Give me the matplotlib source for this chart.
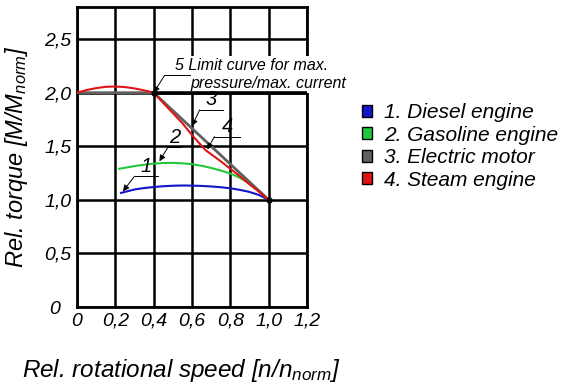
import matplotlib
matplotlib.use('Agg')
import matplotlib.pyplot as plt
from matplotlib.patches import Patch

plt.rcParams['font.family'] = ['Liberation Sans', 'DejaVu Sans']
plt.rcParams['font.style'] = 'italic'
plt.rcParams['mathtext.fontset'] = 'custom'
plt.rcParams['mathtext.rm'] = 'Liberation Sans:italic'
plt.rcParams['mathtext.it'] = 'Liberation Sans:italic'

# curves
diesel_x = [0.23, 0.30, 0.35, 0.40, 0.45, 0.50, 0.55, 0.60, 0.65, 0.70, 0.75, 0.80, 0.85, 0.90, 0.95, 1.00]
diesel_y = [1.065, 1.097, 1.110, 1.120, 1.127, 1.132, 1.134, 1.133, 1.130, 1.125, 1.118, 1.108, 1.093, 1.074, 1.045, 1.000]

gasoline_x = [0.22, 0.30, 0.35, 0.40, 0.45, 0.50, 0.55, 0.60, 0.65, 0.70, 0.75, 0.80, 0.85, 0.90, 0.95, 1.00]
gasoline_y = [1.290, 1.315, 1.328, 1.338, 1.344, 1.345, 1.341, 1.333, 1.318, 1.298, 1.274, 1.246, 1.205, 1.153, 1.085, 1.000]

electric_x = [0.0, 0.4, 1.0]
electric_y = [2.0, 2.0, 1.0]

steam_x = [0.00, 0.05, 0.10, 0.15, 0.20, 0.25, 0.30, 0.35, 0.40, 0.45, 0.50, 0.55, 0.60, 0.67, 0.75, 0.80, 0.85, 0.90, 0.95, 1.00]
steam_y = [2.000, 2.025, 2.043, 2.055, 2.058, 2.053, 2.040, 2.022, 2.000, 1.905, 1.810, 1.715, 1.605, 1.465, 1.360, 1.290, 1.220, 1.145, 1.075, 1.000]

limit_x = [0.4, 1.2]
limit_y = [2.0, 2.0]

node_x = [0.4, 1.0]
node_y = [2.0, 1.0]

x_ticks = [0, 0.2, 0.4, 0.6, 0.8, 1.0, 1.2]
x_labels = ['0', '0,2', '0,4', '0,6', '0,8', '1,0', '1,2']
y_ticks = [0, 0.5, 1.0, 1.5, 2.0, 2.5]
y_labels = ['0  ', '0,5', '1,0', '1,5', '2,0', '2,5']

legend_labels = ['1. Diesel engine', '2. Gasoline engine', '3. Electric motor', '4. Steam engine']
legend_colors = ['#1414c8', '#22c83c', '#606060', '#e01414']

# curve number labels: text, tip on curve, underline start, underline end
marks = [
    ('1', (0.24, 1.08), (0.30, 1.22), (0.42, 1.22)),
    ('2', (0.43, 1.36), (0.474, 1.49), (0.545, 1.49)),
    ('3', (0.60, 1.69), (0.64, 1.84), (0.76, 1.84)),
    ('4', (0.68, 1.47), (0.717, 1.59), (0.85, 1.59)),
]

fig = plt.figure(figsize=(5.68, 3.87), dpi=100)
ax = fig.add_axes([77/568, 80/387, 230/568, 300/387])
ax.set_xlim(0, 1.2)
ax.set_ylim(0, 2.8)
ax.set_xticks(x_ticks)
ax.set_xticklabels(x_labels, fontsize=14)
ax.set_yticks(y_ticks)
ax.set_yticklabels(y_labels, fontsize=14)
ax.tick_params(length=0, pad=4)
ax.grid(True, color='black', lw=1.8, zorder=1)
ax.set_axisbelow(True)
for s in ax.spines.values():
    s.set_linewidth(2.0)

ax.plot(limit_x, limit_y, color='black', lw=2.6, zorder=4)
ax.plot(diesel_x, diesel_y, color=legend_colors[0], lw=1.5, zorder=5)
ax.plot(gasoline_x, gasoline_y, color=legend_colors[1], lw=1.5, zorder=5)
ax.plot(electric_x, electric_y, color=legend_colors[2], lw=2.0, zorder=5)
ax.plot(steam_x, steam_y, color=legend_colors[3], lw=1.5, zorder=6)
ax.plot(node_x, node_y, 'o', color='black', ms=3.5, zorder=7)

for lab, tip, u0, u1 in marks:
    ax.plot([u0[0], u1[0]], [u0[1], u1[1]], color='black', lw=0.7, zorder=8)
    ax.annotate('', xy=tip, xytext=u0,
                arrowprops=dict(arrowstyle='-|>', color='black', lw=0.7, mutation_scale=9,
                                shrinkA=0, shrinkB=0), zorder=8)
    ax.text((u0[0] + u1[0]) / 2, u0[1] + 0.005, lab, fontsize=14.5, ha='center', va='bottom', zorder=8)

# limit curve label
ax.text(0.51, 2.25, '5 Limit curve for max.', fontsize=11.5, ha='left', va='center', zorder=3,
        clip_on=False, bbox=dict(facecolor='white', edgecolor='none', pad=1.5))
ax.text(0.59, 2.085, 'pressure/max. current', fontsize=11.5, ha='left', va='center', zorder=3,
        clip_on=False, bbox=dict(facecolor='white', edgecolor='none', pad=1.5))
ax.plot([0.457, 0.59], [2.162, 2.162], color='black', lw=0.7, zorder=8)
ax.annotate('', xy=(0.4, 2.0), xytext=(0.457, 2.162),
            arrowprops=dict(arrowstyle='-|>', color='black', lw=0.7, mutation_scale=9,
                            shrinkA=0, shrinkB=0), zorder=8)

fig.text(17/568, 1 - 157/387, r'Rel. torque [M/M$_{\mathrm{norm}}$]', fontsize=17,
         rotation=90, ha='center', va='center')
fig.text(22/568, 1 - 370/387, r'Rel. rotational speed [n/n$_{\mathrm{norm}}$]', fontsize=17.5,
         ha='left', va='center')

handles = [Patch(facecolor=c, edgecolor='black', lw=1.0) for c in legend_colors]
fig.legend(handles, legend_labels, loc='upper left', bbox_to_anchor=(362/568, 1 - 103/387),
           frameon=False, fontsize=15, handlelength=0.5, handleheight=0.5,
           handletextpad=0.55, labelspacing=0.17, borderpad=0, borderaxespad=0)

fig.savefig('out.png', dpi=100)
